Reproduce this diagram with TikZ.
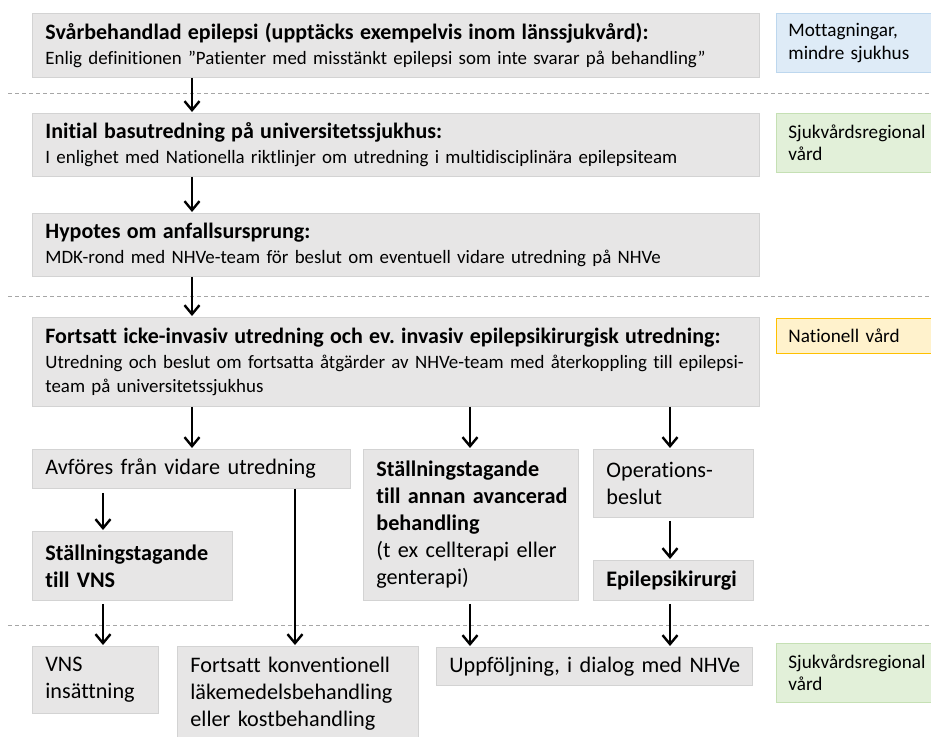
\documentclass[tikz,border=0pt]{standalone}
\usepackage{fontspec}
\setmainfont{Carlito}[Ligatures=NoCommon]
\usetikzlibrary{arrows.meta}
\frenchspacing
\definecolor{boxfill}{HTML}{E7E6E6}
\definecolor{boxline}{HTML}{D3D3D3}
\definecolor{bluefill}{HTML}{DEEBF7}
\definecolor{blueline}{HTML}{BDD7EE}
\definecolor{greenfill}{HTML}{E2F0D9}
\definecolor{greenline}{HTML}{C5E0B4}
\definecolor{yellowfill}{HTML}{FFF2CC}
\definecolor{yellowline}{HTML}{FFC000}
\definecolor{dashgray}{HTML}{A6A6A6}
\newcommand{\bodyS}{\fontsize{18.9}{24.5}\selectfont}
\newcommand{\headS}{\fontsize{22}{24.5}\selectfont\bfseries}
\newcommand{\bigS}{\fontsize{22.2}{27}\selectfont}
\newcommand{\labS}{\fontsize{19.2}{22.5}\selectfont}
\begin{document}
\begin{tikzpicture}[x=1pt,y=-1pt,
  box/.style={draw=boxline, line width=0.8pt, fill=boxfill, anchor=north west,
    inner xsep=13pt, inner ysep=0pt, align=left},
  lab/.style={line width=0.8pt, anchor=north west, inner xsep=12pt, inner ysep=0pt,
    align=left, text width=140pt, font=\labS},
  arr/.style={line width=2.4pt, -{Straight Barb[length=9pt,width=15pt,line width=2.4pt]}, shorten >=1pt},
  dashline/.style={draw=dashgray, line width=0.9pt, dash pattern=on 4pt off 3pt}]
\useasboundingbox (0,0) rectangle (931,736);
\fill[white] (0,0) rectangle (931,736);

% column coordinates
\coordinate (c1) at (192,0);
\coordinate (c2) at (103,0);
\coordinate (c3) at (295,0);
\coordinate (c4) at (470,0);
\coordinate (c5) at (670,0);

% dashed separators
\draw[dashline] (8,93) -- (931,93);
\draw[dashline] (8,296) -- (931,296);
\draw[dashline] (8,625) -- (931,625);

% main boxes
\node[box, text width=701pt, minimum height=64pt, font=\bodyS] (b1) at (32,13)
  {{\headS Svårbehandlad epilepsi (upptäcks exempelvis inom länssjukvård):}\\
   \mbox{Enlig definitionen ”Patienter med misstänkt epilepsi som inte svarar på behandling”}};
\node[box, text width=701pt, minimum height=63pt, font=\bodyS] (b2) at (32,113)
  {{\headS Initial basutredning på universitetssjukhus:}\\
   \mbox{I enlighet med Nationella riktlinjer om utredning i multidisciplinära epilepsiteam}};
\node[box, text width=701pt, minimum height=63pt, font=\bodyS] (b3) at (32,213)
  {{\headS Hypotes om anfallsursprung:}\\
   \mbox{MDK-rond med NHVe-team för beslut om eventuell vidare utredning på NHVe}};
\node[box, text width=701pt, minimum height=89pt, font=\bodyS] (b4) at (32,317)
  {{\headS \mbox{Fortsatt icke-invasiv utredning och ev. invasiv epilepsikirurgisk utredning:}}\\
   \mbox{Utredning och beslut om fortsatta åtgärder av NHVe-team med återkoppling till epilepsi-}\\
   team på universitetssjukhus};

\node[box, text width=292pt, minimum height=39pt, font=\bigS] (b5) at (32,449)
  {Avföres från vidare utredning};
\node[box, text width=174pt, minimum height=69pt, font=\bigS] (b6) at (32,531)
  {\textbf{Ställningstagande}\\\textbf{till VNS}};
\node[box, text width=189pt, minimum height=151pt, font=\bigS] (b7) at (363,449)
  {\textbf{\mbox{Ställningstagande}}\\\textbf{\mbox{till annan avancerad}}\\\textbf{behandling}\\
   \mbox{(t ex cellterapi eller}\\genterapi)};
\node[box, text width=134pt, minimum height=68pt, font=\bigS] (b8) at (593,449)
  {Operations-\\beslut};
\node[box, text width=134pt, minimum height=40pt, font=\bigS] (b9) at (593,560)
  {\textbf{Epilepsikirurgi}};

\node[box, text width=100pt, minimum height=67pt, font=\bigS] (b10) at (32,646)
  {VNS\\insättning};
\node[box, text width=215pt, minimum height=94pt, font=\bigS] (b11) at (177,646)
  {\mbox{Fortsatt konventionell}\\\mbox{läkemedelsbehandling}\\\mbox{eller kostbehandling}};
\node[box, text width=290pt, minimum height=38pt, font=\bigS] (b12) at (436,647)
  {\mbox{Uppföljning, i dialog med NHVe}};

% right-hand labels
\node[lab, draw=blueline, fill=bluefill, minimum height=59pt] (l1) at (776,13)
  {Mottagningar,\\mindre sjukhus};
\node[lab, draw=greenline, fill=greenfill, minimum height=59pt] (l2) at (776,113)
  {Sjukvårdsregional\\vård};
\node[lab, draw=yellowline, fill=yellowfill, minimum height=35pt] (l3) at (776,318)
  {Nationell vård};
\node[lab, draw=greenline, fill=greenfill, minimum height=59pt] (l4) at (776,643)
  {Sjukvårdsregional\\vård};

% connectors
\draw[arr] (b1.south -| c1) -- (b2.north -| c1);
\draw[arr] (b2.south -| c1) -- (b3.north -| c1);
\draw[arr] (b3.south -| c1) -- (b4.north -| c1);
\draw[arr] (b4.south -| c1) -- (b5.north -| c1);
\draw[arr] (b4.south -| c4) -- (b7.north -| c4);
\draw[arr] (b4.south -| c5) -- (b8.north -| c5);
\draw[arr] ([yshift=-4pt]b5.south -| c2) -- (b6.north -| c2);
\draw[arr] (b5.south -| c3) -- (b11.north -| c3);
\draw[arr] ([yshift=-3pt]b6.south -| c2) -- (b10.north -| c2);
\draw[arr] ([yshift=-3pt]b7.south -| c4) -- (b12.north -| c4);
\draw[arr] ([yshift=-3pt]b8.south -| c5) -- (b9.north -| c5);
\draw[arr] ([yshift=-3pt]b9.south -| c5) -- (b12.north -| c5);
\end{tikzpicture}
\end{document}
